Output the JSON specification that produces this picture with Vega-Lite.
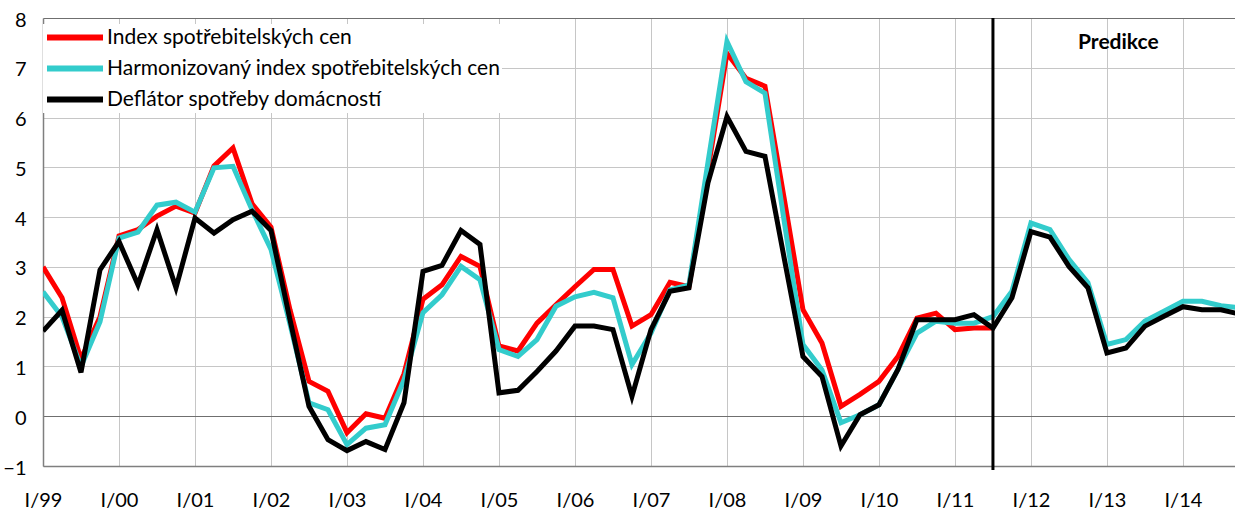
{
  "$schema": "https://vega.github.io/schema/vega-lite/v6.json",
  "autosize": "none",
  "padding": {"left": 43, "top": 18, "right": 0, "bottom": 45},
  "width": 1192,
  "height": 448,
  "background": "white",
  "config": {
    "view": {"stroke": null},
    "font": "Lato",
    "axis": {"labelFont": "Lato", "labelFontSize": 20, "labelColor": "#000000", "ticks": false, "domainColor": "#7f7f7f", "domainWidth": 1.5, "titleFontSize": 0}
  },
  "datasets": {
    "series": [
      {"q":0,"quarter":"I/99","series":"Index spotřebitelských cen","value":3.0},
      {"q":1,"quarter":"II/99","series":"Index spotřebitelských cen","value":2.38},
      {"q":2,"quarter":"III/99","series":"Index spotřebitelských cen","value":1.15},
      {"q":3,"quarter":"IV/99","series":"Index spotřebitelských cen","value":2.0},
      {"q":4,"quarter":"I/00","series":"Index spotřebitelských cen","value":3.62},
      {"q":5,"quarter":"II/00","series":"Index spotřebitelských cen","value":3.75},
      {"q":6,"quarter":"III/00","series":"Index spotřebitelských cen","value":4.02},
      {"q":7,"quarter":"IV/00","series":"Index spotřebitelských cen","value":4.22},
      {"q":8,"quarter":"I/01","series":"Index spotřebitelských cen","value":4.08},
      {"q":9,"quarter":"II/01","series":"Index spotřebitelských cen","value":5.03},
      {"q":10,"quarter":"III/01","series":"Index spotřebitelských cen","value":5.39},
      {"q":11,"quarter":"IV/01","series":"Index spotřebitelských cen","value":4.27},
      {"q":12,"quarter":"I/02","series":"Index spotřebitelských cen","value":3.8},
      {"q":13,"quarter":"II/02","series":"Index spotřebitelských cen","value":2.14},
      {"q":14,"quarter":"III/02","series":"Index spotřebitelských cen","value":0.7},
      {"q":15,"quarter":"IV/02","series":"Index spotřebitelských cen","value":0.5},
      {"q":16,"quarter":"I/03","series":"Index spotřebitelských cen","value":-0.33},
      {"q":17,"quarter":"II/03","series":"Index spotřebitelských cen","value":0.05},
      {"q":18,"quarter":"III/03","series":"Index spotřebitelských cen","value":-0.04},
      {"q":19,"quarter":"IV/03","series":"Index spotřebitelských cen","value":0.85},
      {"q":20,"quarter":"I/04","series":"Index spotřebitelských cen","value":2.35},
      {"q":21,"quarter":"II/04","series":"Index spotřebitelských cen","value":2.64},
      {"q":22,"quarter":"III/04","series":"Index spotřebitelských cen","value":3.21},
      {"q":23,"quarter":"IV/04","series":"Index spotřebitelských cen","value":3.01},
      {"q":24,"quarter":"I/05","series":"Index spotřebitelských cen","value":1.41},
      {"q":25,"quarter":"II/05","series":"Index spotřebitelských cen","value":1.31},
      {"q":26,"quarter":"III/05","series":"Index spotřebitelských cen","value":1.87},
      {"q":27,"quarter":"IV/05","series":"Index spotřebitelských cen","value":2.24},
      {"q":28,"quarter":"I/06","series":"Index spotřebitelských cen","value":2.6},
      {"q":29,"quarter":"II/06","series":"Index spotřebitelských cen","value":2.95},
      {"q":30,"quarter":"III/06","series":"Index spotřebitelských cen","value":2.95},
      {"q":31,"quarter":"IV/06","series":"Index spotřebitelských cen","value":1.81},
      {"q":32,"quarter":"I/07","series":"Index spotřebitelských cen","value":2.04},
      {"q":33,"quarter":"II/07","series":"Index spotřebitelských cen","value":2.69},
      {"q":34,"quarter":"III/07","series":"Index spotřebitelských cen","value":2.6},
      {"q":35,"quarter":"IV/07","series":"Index spotřebitelských cen","value":4.95},
      {"q":36,"quarter":"I/08","series":"Index spotřebitelských cen","value":7.29},
      {"q":37,"quarter":"II/08","series":"Index spotřebitelských cen","value":6.79},
      {"q":38,"quarter":"III/08","series":"Index spotřebitelských cen","value":6.63},
      {"q":39,"quarter":"IV/08","series":"Index spotřebitelských cen","value":4.4},
      {"q":40,"quarter":"I/09","series":"Index spotřebitelských cen","value":2.14},
      {"q":41,"quarter":"II/09","series":"Index spotřebitelských cen","value":1.47},
      {"q":42,"quarter":"III/09","series":"Index spotřebitelských cen","value":0.2},
      {"q":43,"quarter":"IV/09","series":"Index spotřebitelských cen","value":0.44},
      {"q":44,"quarter":"I/10","series":"Index spotřebitelských cen","value":0.7},
      {"q":45,"quarter":"II/10","series":"Index spotřebitelských cen","value":1.2},
      {"q":46,"quarter":"III/10","series":"Index spotřebitelských cen","value":1.97},
      {"q":47,"quarter":"IV/10","series":"Index spotřebitelských cen","value":2.07},
      {"q":48,"quarter":"I/11","series":"Index spotřebitelských cen","value":1.74},
      {"q":49,"quarter":"II/11","series":"Index spotřebitelských cen","value":1.77},
      {"q":50,"quarter":"III/11","series":"Index spotřebitelských cen","value":1.77},

      {"q":0,"quarter":"I/99","series":"Harmonizovaný index spotřebitelských cen","value":2.5},
      {"q":1,"quarter":"II/99","series":"Harmonizovaný index spotřebitelských cen","value":2.0},
      {"q":2,"quarter":"III/99","series":"Harmonizovaný index spotřebitelských cen","value":1.0},
      {"q":3,"quarter":"IV/99","series":"Harmonizovaný index spotřebitelských cen","value":1.9},
      {"q":4,"quarter":"I/00","series":"Harmonizovaný index spotřebitelských cen","value":3.58},
      {"q":5,"quarter":"II/00","series":"Harmonizovaný index spotřebitelských cen","value":3.7},
      {"q":6,"quarter":"III/00","series":"Harmonizovaný index spotřebitelských cen","value":4.24},
      {"q":7,"quarter":"IV/00","series":"Harmonizovaný index spotřebitelských cen","value":4.3},
      {"q":8,"quarter":"I/01","series":"Harmonizovaný index spotřebitelských cen","value":4.1},
      {"q":9,"quarter":"II/01","series":"Harmonizovaný index spotřebitelských cen","value":4.99},
      {"q":10,"quarter":"III/01","series":"Harmonizovaný index spotřebitelských cen","value":5.02},
      {"q":11,"quarter":"IV/01","series":"Harmonizovaný index spotřebitelských cen","value":4.15},
      {"q":12,"quarter":"I/02","series":"Harmonizovaný index spotřebitelských cen","value":3.35},
      {"q":13,"quarter":"II/02","series":"Harmonizovaný index spotřebitelských cen","value":1.85},
      {"q":14,"quarter":"III/02","series":"Harmonizovaný index spotřebitelských cen","value":0.27},
      {"q":15,"quarter":"IV/02","series":"Harmonizovaný index spotřebitelských cen","value":0.13},
      {"q":16,"quarter":"I/03","series":"Harmonizovaný index spotřebitelských cen","value":-0.57},
      {"q":17,"quarter":"II/03","series":"Harmonizovaný index spotřebitelských cen","value":-0.24},
      {"q":18,"quarter":"III/03","series":"Harmonizovaný index spotřebitelských cen","value":-0.17},
      {"q":19,"quarter":"IV/03","series":"Harmonizovaný index spotřebitelských cen","value":0.73},
      {"q":20,"quarter":"I/04","series":"Harmonizovaný index spotřebitelských cen","value":2.08},
      {"q":21,"quarter":"II/04","series":"Harmonizovaný index spotřebitelských cen","value":2.44},
      {"q":22,"quarter":"III/04","series":"Harmonizovaný index spotřebitelských cen","value":3.01},
      {"q":23,"quarter":"IV/04","series":"Harmonizovaný index spotřebitelských cen","value":2.74},
      {"q":24,"quarter":"I/05","series":"Harmonizovaný index spotřebitelských cen","value":1.34},
      {"q":25,"quarter":"II/05","series":"Harmonizovaný index spotřebitelských cen","value":1.2},
      {"q":26,"quarter":"III/05","series":"Harmonizovaný index spotřebitelských cen","value":1.54},
      {"q":27,"quarter":"IV/05","series":"Harmonizovaný index spotřebitelských cen","value":2.21},
      {"q":28,"quarter":"I/06","series":"Harmonizovaný index spotřebitelských cen","value":2.4},
      {"q":29,"quarter":"II/06","series":"Harmonizovaný index spotřebitelských cen","value":2.49},
      {"q":30,"quarter":"III/06","series":"Harmonizovaný index spotřebitelských cen","value":2.38},
      {"q":31,"quarter":"IV/06","series":"Harmonizovaný index spotřebitelských cen","value":1.04},
      {"q":32,"quarter":"I/07","series":"Harmonizovaný index spotřebitelských cen","value":1.67},
      {"q":33,"quarter":"II/07","series":"Harmonizovaný index spotřebitelských cen","value":2.54},
      {"q":34,"quarter":"III/07","series":"Harmonizovaný index spotřebitelských cen","value":2.64},
      {"q":35,"quarter":"IV/07","series":"Harmonizovaný index spotřebitelských cen","value":5.1},
      {"q":36,"quarter":"I/08","series":"Harmonizovaný index spotřebitelských cen","value":7.53},
      {"q":37,"quarter":"II/08","series":"Harmonizovaný index spotřebitelských cen","value":6.72},
      {"q":38,"quarter":"III/08","series":"Harmonizovaný index spotřebitelských cen","value":6.49},
      {"q":39,"quarter":"IV/08","series":"Harmonizovaný index spotřebitelských cen","value":3.95},
      {"q":40,"quarter":"I/09","series":"Harmonizovaný index spotřebitelských cen","value":1.44},
      {"q":41,"quarter":"II/09","series":"Harmonizovaný index spotřebitelských cen","value":0.93},
      {"q":42,"quarter":"III/09","series":"Harmonizovaný index spotřebitelských cen","value":-0.13},
      {"q":43,"quarter":"IV/09","series":"Harmonizovaný index spotřebitelských cen","value":0.03},
      {"q":44,"quarter":"I/10","series":"Harmonizovaný index spotřebitelských cen","value":0.23},
      {"q":45,"quarter":"II/10","series":"Harmonizovaný index spotřebitelských cen","value":0.94},
      {"q":46,"quarter":"III/10","series":"Harmonizovaný index spotřebitelských cen","value":1.67},
      {"q":47,"quarter":"IV/10","series":"Harmonizovaný index spotřebitelských cen","value":1.91},
      {"q":48,"quarter":"I/11","series":"Harmonizovaný index spotřebitelských cen","value":1.87},
      {"q":49,"quarter":"II/11","series":"Harmonizovaný index spotřebitelských cen","value":1.87},
      {"q":50,"quarter":"III/11","series":"Harmonizovaný index spotřebitelských cen","value":2.0},
      {"q":51,"quarter":"IV/11","series":"Harmonizovaný index spotřebitelských cen","value":2.51},
      {"q":52,"quarter":"I/12","series":"Harmonizovaný index spotřebitelských cen","value":3.88},
      {"q":53,"quarter":"II/12","series":"Harmonizovaný index spotřebitelských cen","value":3.75},
      {"q":54,"quarter":"III/12","series":"Harmonizovaný index spotřebitelských cen","value":3.15},
      {"q":55,"quarter":"IV/12","series":"Harmonizovaný index spotřebitelských cen","value":2.68},
      {"q":56,"quarter":"I/13","series":"Harmonizovaný index spotřebitelských cen","value":1.44},
      {"q":57,"quarter":"II/13","series":"Harmonizovaný index spotřebitelských cen","value":1.54},
      {"q":58,"quarter":"III/13","series":"Harmonizovaný index spotřebitelských cen","value":1.91},
      {"q":59,"quarter":"IV/13","series":"Harmonizovaný index spotřebitelských cen","value":2.11},
      {"q":60,"quarter":"I/14","series":"Harmonizovaný index spotřebitelských cen","value":2.31},
      {"q":61,"quarter":"II/14","series":"Harmonizovaný index spotřebitelských cen","value":2.31},
      {"q":62,"quarter":"III/14","series":"Harmonizovaný index spotřebitelských cen","value":2.22},
      {"q":63,"quarter":"IV/14","series":"Harmonizovaný index spotřebitelských cen","value":2.18},

      {"q":0,"quarter":"I/99","series":"Deflátor spotřeby domácností","value":1.71},
      {"q":1,"quarter":"II/99","series":"Deflátor spotřeby domácností","value":2.13},
      {"q":2,"quarter":"III/99","series":"Deflátor spotřeby domácností","value":0.88},
      {"q":3,"quarter":"IV/99","series":"Deflátor spotřeby domácností","value":2.94},
      {"q":4,"quarter":"I/00","series":"Deflátor spotřeby domácností","value":3.51},
      {"q":5,"quarter":"II/00","series":"Deflátor spotřeby domácností","value":2.64},
      {"q":6,"quarter":"III/00","series":"Deflátor spotřeby domácností","value":3.75},
      {"q":7,"quarter":"IV/00","series":"Deflátor spotřeby domácností","value":2.58},
      {"q":8,"quarter":"I/01","series":"Deflátor spotřeby domácností","value":3.98},
      {"q":9,"quarter":"II/01","series":"Deflátor spotřeby domácností","value":3.68},
      {"q":10,"quarter":"III/01","series":"Deflátor spotřeby domácností","value":3.95},
      {"q":11,"quarter":"IV/01","series":"Deflátor spotřeby domácností","value":4.12},
      {"q":12,"quarter":"I/02","series":"Deflátor spotřeby domácností","value":3.73},
      {"q":13,"quarter":"II/02","series":"Deflátor spotřeby domácností","value":1.94},
      {"q":14,"quarter":"III/02","series":"Deflátor spotřeby domácností","value":0.2},
      {"q":15,"quarter":"IV/02","series":"Deflátor spotřeby domácností","value":-0.47},
      {"q":16,"quarter":"I/03","series":"Deflátor spotřeby domácností","value":-0.69},
      {"q":17,"quarter":"II/03","series":"Deflátor spotřeby domácností","value":-0.51},
      {"q":18,"quarter":"III/03","series":"Deflátor spotřeby domácností","value":-0.67},
      {"q":19,"quarter":"IV/03","series":"Deflátor spotřeby domácností","value":0.27},
      {"q":20,"quarter":"I/04","series":"Deflátor spotřeby domácností","value":2.91},
      {"q":21,"quarter":"II/04","series":"Deflátor spotřeby domácností","value":3.03},
      {"q":22,"quarter":"III/04","series":"Deflátor spotřeby domácností","value":3.73},
      {"q":23,"quarter":"IV/04","series":"Deflátor spotřeby domácností","value":3.45},
      {"q":24,"quarter":"I/05","series":"Deflátor spotřeby domácností","value":0.47},
      {"q":25,"quarter":"II/05","series":"Deflátor spotřeby domácností","value":0.52},
      {"q":26,"quarter":"III/05","series":"Deflátor spotřeby domácností","value":0.9},
      {"q":27,"quarter":"IV/05","series":"Deflátor spotřeby domácností","value":1.31},
      {"q":28,"quarter":"I/06","series":"Deflátor spotřeby domácností","value":1.81},
      {"q":29,"quarter":"II/06","series":"Deflátor spotřeby domácností","value":1.81},
      {"q":30,"quarter":"III/06","series":"Deflátor spotřeby domácností","value":1.74},
      {"q":31,"quarter":"IV/06","series":"Deflátor spotřeby domácností","value":0.4},
      {"q":32,"quarter":"I/07","series":"Deflátor spotřeby domácností","value":1.74},
      {"q":33,"quarter":"II/07","series":"Deflátor spotřeby domácností","value":2.51},
      {"q":34,"quarter":"III/07","series":"Deflátor spotřeby domácností","value":2.58},
      {"q":35,"quarter":"IV/07","series":"Deflátor spotřeby domácností","value":4.69},
      {"q":36,"quarter":"I/08","series":"Deflátor spotřeby domácností","value":6.02},
      {"q":37,"quarter":"II/08","series":"Deflátor spotřeby domácností","value":5.32},
      {"q":38,"quarter":"III/08","series":"Deflátor spotřeby domácností","value":5.22},
      {"q":39,"quarter":"IV/08","series":"Deflátor spotřeby domácností","value":3.2},
      {"q":40,"quarter":"I/09","series":"Deflátor spotřeby domácností","value":1.2},
      {"q":41,"quarter":"II/09","series":"Deflátor spotřeby domácností","value":0.8},
      {"q":42,"quarter":"III/09","series":"Deflátor spotřeby domácností","value":-0.6},
      {"q":43,"quarter":"IV/09","series":"Deflátor spotřeby domácností","value":0.03},
      {"q":44,"quarter":"I/10","series":"Deflátor spotřeby domácností","value":0.23},
      {"q":45,"quarter":"II/10","series":"Deflátor spotřeby domácností","value":0.94},
      {"q":46,"quarter":"III/10","series":"Deflátor spotřeby domácností","value":1.94},
      {"q":47,"quarter":"IV/10","series":"Deflátor spotřeby domácností","value":1.94},
      {"q":48,"quarter":"I/11","series":"Deflátor spotřeby domácností","value":1.94},
      {"q":49,"quarter":"II/11","series":"Deflátor spotřeby domácností","value":2.04},
      {"q":50,"quarter":"III/11","series":"Deflátor spotřeby domácností","value":1.77},
      {"q":51,"quarter":"IV/11","series":"Deflátor spotřeby domácností","value":2.38},
      {"q":52,"quarter":"I/12","series":"Deflátor spotřeby domácností","value":3.71},
      {"q":53,"quarter":"II/12","series":"Deflátor spotřeby domácností","value":3.6},
      {"q":54,"quarter":"III/12","series":"Deflátor spotřeby domácností","value":3.01},
      {"q":55,"quarter":"IV/12","series":"Deflátor spotřeby domácností","value":2.58},
      {"q":56,"quarter":"I/13","series":"Deflátor spotřeby domácností","value":1.27},
      {"q":57,"quarter":"II/13","series":"Deflátor spotřeby domácností","value":1.37},
      {"q":58,"quarter":"III/13","series":"Deflátor spotřeby domácností","value":1.81},
      {"q":59,"quarter":"IV/13","series":"Deflátor spotřeby domácností","value":2.01},
      {"q":60,"quarter":"I/14","series":"Deflátor spotřeby domácností","value":2.2},
      {"q":61,"quarter":"II/14","series":"Deflátor spotřeby domácností","value":2.14},
      {"q":62,"quarter":"III/14","series":"Deflátor spotřeby domácností","value":2.14},
      {"q":63,"quarter":"IV/14","series":"Deflátor spotřeby domácností","value":2.05}
    ],
    "marker": [{"q": 50, "top": 8, "bottom": -1.08}],
    "note": [{"q": 56.6, "value": 7.5, "label": "Predikce"}]
  },
  "layer": [
    {
      "data": {"name": "series"},
      "transform": [{"filter": "datum.series === 'Index spotřebitelských cen'"}],
      "mark": {"type": "line", "strokeWidth": 5, "clip": true, "strokeJoin": "miter"},
      "encoding": {
        "x": {"field": "q", "type": "quantitative", "scale": {"domain": [0, 62.74], "nice": false, "zero": false},
              "axis": {"title": null, "values": [0,4,8,12,16,20,24,28,32,36,40,44,48,52,56,60], "grid": true, "gridColor": "#c6c6c6", "gridWidth": 1, "labelPadding": 24, "labelFontSize": 20, "labelFlush": false, "labelOverlap": false,
                       "labelExpr": "'I/' + (((99 + datum.value/4) % 100) < 10 ? '0' : '') + ((99 + datum.value/4) % 100)"}},
        "y": {"field": "value", "type": "quantitative", "scale": {"domain": [-1, 8], "nice": false, "zero": false},
              "axis": {"title": null, "values": [-1,0,1,2,3,4,5,6,7,8], "grid": true, "gridWidth": 1.2, "labelPadding": 17, "labelOffset": 2, "labelFontSize": 20, "labelFlush": false,
                       "gridColor": {"condition": {"test": "datum.value === 0 || datum.value === 8", "value": "#6f6f6f"}, "value": "#c6c6c6"}}},
        "color": {"field": "series", "type": "nominal",
                  "scale": {"domain": ["Index spotřebitelských cen", "Harmonizovaný index spotřebitelských cen", "Deflátor spotřeby domácností"], "range": ["#ff0000", "#33cccc", "#000000"]},
                  "legend": {"title": null, "orient": "none", "legendX": 0, "legendY": 6, "fillColor": "white", "padding": 1,
                             "symbolType": "stroke", "symbolSize": 3136, "symbolStrokeWidth": 6, "clipHeight": 25, "rowPadding": 6,
                             "labelFont": "Lato", "labelFontSize": 21, "labelColor": "#000000", "labelOffset": 1, "labelLimit": 600}}
      }
    },
    {
      "data": {"name": "series"},
      "transform": [{"filter": "datum.series === 'Harmonizovaný index spotřebitelských cen'"}],
      "mark": {"type": "line", "strokeWidth": 5, "clip": true, "strokeJoin": "miter"},
      "encoding": {
        "x": {"field": "q", "type": "quantitative"},
        "y": {"field": "value", "type": "quantitative"},
        "color": {"field": "series", "type": "nominal"}
      }
    },
    {
      "data": {"name": "series"},
      "transform": [{"filter": "datum.series === 'Deflátor spotřeby domácností'"}],
      "mark": {"type": "line", "strokeWidth": 5, "clip": true, "strokeJoin": "miter"},
      "encoding": {
        "x": {"field": "q", "type": "quantitative"},
        "y": {"field": "value", "type": "quantitative"},
        "color": {"field": "series", "type": "nominal"}
      }
    },
    {
      "data": {"name": "marker"},
      "mark": {"type": "rule", "color": "#000000", "strokeWidth": 3},
      "encoding": {
        "x": {"field": "q", "type": "quantitative"},
        "y": {"field": "top", "type": "quantitative"},
        "y2": {"field": "bottom"}
      }
    },
    {
      "data": {"name": "note"},
      "mark": {"type": "text", "font": "Lato", "fontSize": 21, "fontWeight": "bold", "color": "#000000", "align": "center", "baseline": "middle"},
      "encoding": {
        "x": {"field": "q", "type": "quantitative"},
        "y": {"field": "value", "type": "quantitative"},
        "text": {"field": "label"}
      }
    }
  ]
}
